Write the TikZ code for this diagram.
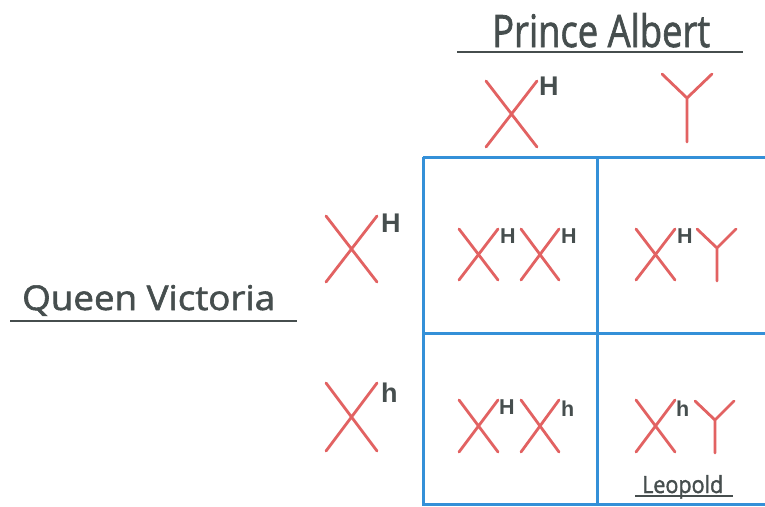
\documentclass[tikz,border=0pt]{standalone}
\usepackage{fontspec}
\setmainfont{Open Sans}
\newfontfamily\handfont[FakeBold=1.6]{Open Sans}
\newfontfamily\supfont{Liberation Sans}
\definecolor{chromred}{RGB}{226,98,98}
\definecolor{gridblue}{RGB}{52,144,216}
\definecolor{inkgray}{RGB}{70,78,78}
\tikzset{
  chrom/.style={draw=chromred, line width=2.8pt, line cap=round},
  gridline/.style={draw=gridblue, line width=3pt},
  rule/.style={draw=inkgray, line width=2.6pt},
  bigsup/.style={inner sep=0pt, anchor=base west, text=inkgray, font=\supfont\bfseries\fontsize{27}{27}\selectfont},
  smallsup/.style={inner sep=0pt, anchor=base west, text=inkgray, font=\supfont\bfseries\fontsize{21.5}{21.5}\selectfont},
  title/.style={inner sep=0pt, anchor=base west, text=inkgray, font=\handfont}
}
\newcommand\drawX[4]{\draw[chrom] (#1,#2) -- (#3,#4) (#1,#4) -- (#3,#2);}
\begin{document}
\begin{tikzpicture}[x=1pt,y=-1pt]
\useasboundingbox[fill=white] (0,0) rectangle (765,506);
% titles
\node[title] (albert) at (492,47) {\resizebox{218pt}{34pt}{Prince Albert}};
\draw[rule] (457,52) -- (743,52);
\node[title] (victoria) at (22,310) {\resizebox{253pt}{25pt}{Queen Victoria}};
\draw[rule] (10,321) -- (297,321);
% header gametes
\drawX{486}{81}{537}{147}
\node[bigsup] (h1) at (539,95) {H};
\draw[chrom] (662,74) -- (687,98) -- (712,74) (687,98) -- (687,142);
\drawX{326}{216}{377}{282}
\node[bigsup] (h2) at (381,232) {H};
\drawX{326}{383}{377}{451}
\node[bigsup] (h3) at (381,402) {h};
% grid
\draw[gridline] (423,157) -- (765,157);
\draw[gridline] (423,333) -- (765,333);
\draw[gridline] (423,504) -- (765,504);
\draw[gridline] (423,157) -- (423,505.5);
\draw[gridline] (597,157) -- (597,505.5);
% cell 1
\drawX{459}{229}{498}{280}
\node[smallsup] (c1a) at (500,243) {H};
\drawX{521}{229}{559}{280}
\node[smallsup] (c1b) at (561,243) {H};
% cell 2
\drawX{636}{229}{675}{280}
\node[smallsup] (c2a) at (677,243) {H};
\draw[chrom] (697,229) -- (717,248) -- (736,229) (717,248) -- (717,281);
% cell 3
\drawX{459}{400}{498}{452}
\node[smallsup] (c3a) at (499,414) {H};
\drawX{521}{400}{559}{452}
\node[smallsup] (c3b) at (561,416) {h};
% cell 4
\drawX{636}{400}{675}{452}
\node[smallsup] (c4a) at (676,416) {h};
\draw[chrom] (695,401) -- (715,420) -- (734,401) (715,420) -- (715,453);
% Leopold
\node[title] (leo) at (642,493) {\resizebox{81pt}{18pt}{Leopold}};
\draw[inkgray, line width=2.2pt] (635,496) -- (733,496);
\end{tikzpicture}
\end{document}
